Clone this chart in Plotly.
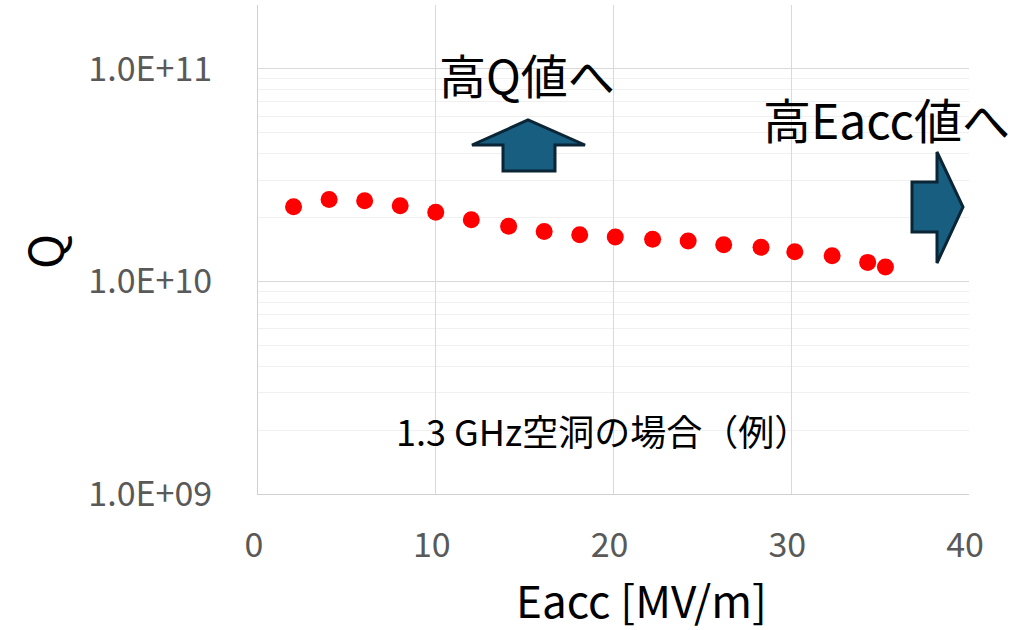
import math
import plotly.graph_objects as go

# ---- data ----
eacc = [2.0, 4.0, 6.0, 8.0, 10.0, 12.0, 14.1, 16.1, 18.1, 20.1, 22.2, 24.2, 26.2, 28.3, 30.2, 32.3, 34.3, 35.3]
q_values = [2.25e10, 2.43e10, 2.40e10, 2.27e10, 2.12e10, 1.95e10, 1.82e10, 1.72e10, 1.66e10,
            1.62e10, 1.58e10, 1.55e10, 1.49e10, 1.45e10, 1.38e10, 1.32e10, 1.23e10, 1.17e10]
y_tickvals = [1e9, 1e10, 1e11]
y_ticktext = ["1.0E+09", "1.0E+10", "1.0E+11"]
x_tickvals = [0, 10, 20, 30, 40]
minor_vals = [m * 10 ** e for e in (9, 10, 11) for m in range(2, 10) if m * 10 ** e <= 2e11]

W, H = 1032, 630
L, R, T, B = 258, 969, 5, 494
FONT = "Noto Sans CJK JP"

def px(x):
    return (x - L) / (R - L)

def py(y):
    return (B - y) / (B - T)

def path(points):
    return "M " + " L ".join(f"{px(a):.5f},{py(b):.5f}" for a, b in points) + " Z"

fig = go.Figure()
fig.add_trace(go.Scatter(
    x=eacc, y=q_values, mode="markers",
    marker=dict(color="#ff0000", size=17, line=dict(width=0)),
    showlegend=False,
))

up_arrow = [(528, 120), (585, 145), (555, 145), (555, 171), (503, 171), (503, 145), (472, 145)]
right_arrow = [(912, 182), (937, 182), (937, 152), (963, 207), (937, 263), (937, 232), (912, 232)]

shapes = [
    dict(type="rect", xref="paper", yref="paper", layer="between",
         x0=px(382), x1=px(848), y0=py(462), y1=py(397),
         fillcolor="white", line=dict(width=0)),
]
for pts in (up_arrow, right_arrow):
    shapes.append(dict(type="path", xref="paper", yref="paper", path=path(pts),
                       fillcolor="#175e80", line=dict(color="#0a2535", width=3)))

def ann(text, x, y, size, angle=0):
    return dict(text=text, x=px(x), y=py(y), xref="paper", yref="paper",
                xanchor="center", yanchor="middle", textangle=angle,
                showarrow=False, font=dict(family=FONT, size=size, color="black"))

annotations = [
    ann("高Q値へ", 527, 73, 47),
    ann("高Eacc値へ", 886, 118, 48),
    ann("1.3 GHz空洞の場合（例）", 603, 430, 36),
    ann("Eacc [MV/m]", 641, 599, 44),
    ann("Q", 42, 252, 47, -90),
]

fig.update_layout(
    width=W, height=H,
    margin=dict(l=L, r=W - R, t=T, b=H - B, pad=0),
    paper_bgcolor="white", plot_bgcolor="white",
    shapes=shapes, annotations=annotations,
    xaxis=dict(range=[0, 40], tickvals=x_tickvals, showgrid=True, gridcolor="#d9d9d9", gridwidth=1,
               zeroline=False, showline=True, linecolor="#d0d0d0", linewidth=1,
               ticks="", ticklabelstandoff=21, ticklabelshift=-4,
               tickfont=dict(family=FONT, size=34, color="#595959")),
    yaxis=dict(type="log", range=[9, math.log10(2e11)], tickvals=y_tickvals, ticktext=y_ticktext,
               showgrid=True, gridcolor="#d9d9d9", gridwidth=1,
               zeroline=False, showline=True, linecolor="#d0d0d0", linewidth=1,
               ticks="", ticklabelstandoff=38,
               minor=dict(tickvals=minor_vals, showgrid=True, gridcolor="#f0f0f0", gridwidth=1, ticks=""),
               tickfont=dict(family=FONT, size=34, color="#595959")),
)

fig.write_html("out.html", config={"displayModeBar": False},
               post_script="document.body.style.margin='0';")
